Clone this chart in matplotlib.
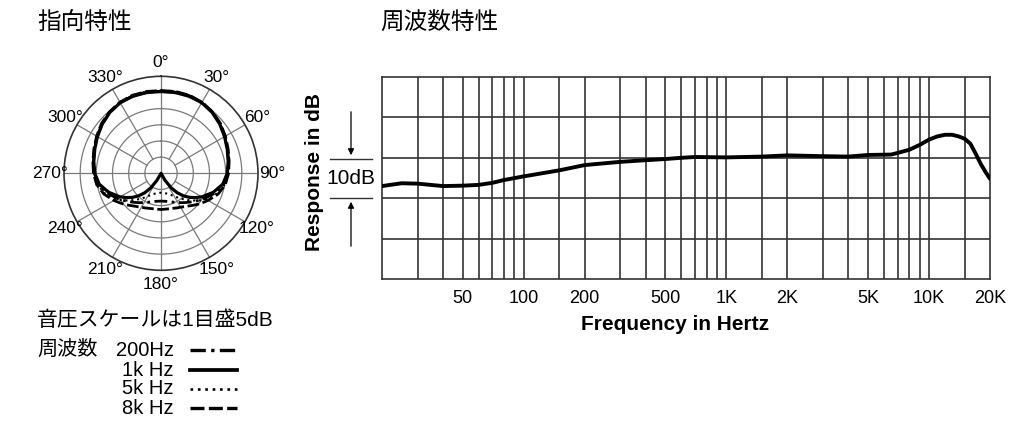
import numpy as np
import matplotlib
matplotlib.use("Agg")
import matplotlib.pyplot as plt

# ---------------- data ----------------
# Polar pattern (dB, outer ring = 0 dB, centre = -30 dB), angles 0..180, mirrored
polar_angles = [0, 10, 20, 30, 40, 50, 60, 70, 80, 90, 100, 110, 120, 125, 130, 135, 140, 145, 150, 155, 160, 170, 180]
polar_1k = [-4.7, -4.6, -4.6, -4.8, -5.4, -6.3, -7.3, -8.2, -8.9, -9.5, -10.6, -12.8, -15.4, -16.9, -18.4, -20.1, -22.1, -24.5, -27.5, -30.0, -30.0, -30.0, -30.0]
polar_8k = [-4.4, -4.3, -4.3, -4.6, -5.2, -6.0, -7.0, -7.9, -8.6, -9.1, -9.8, -11.2, -13.2, -14.2, -15.1, -16.0, -16.8, -17.4, -17.9, -18.2, -18.5, -18.8, -18.8]
polar_5k = [-4.4, -4.4, -4.4, -4.7, -5.3, -6.1, -7.1, -8.0, -8.7, -9.2, -10.0, -11.6, -14.0, -15.4, -16.9, -18.3, -19.6, -20.8, -21.8, -22.6, -23.2, -23.8, -24.0]
polar_200 = [-4.6, -4.5, -4.5, -4.7, -5.3, -6.2, -7.2, -8.1, -8.8, -9.4, -10.4, -12.2, -14.4, -15.5, -16.5, -17.4, -18.2, -18.9, -19.6, -20.1, -20.6, -21.2, -21.4]
polar_labels = ["0°", "30°", "60°", "90°", "120°", "150°", "180°", "210°", "240°", "270°", "300°", "330°"]

# Frequency response (Hz, dB relative)
freq_hz = [20, 25, 30, 40, 50, 60, 70, 80, 100, 150, 200, 300, 400, 500, 600, 700, 1000, 1500, 2000,
           3000, 4000, 5000, 6500, 7000, 8000, 9000, 10000, 11000, 12000, 13000, 14000, 15000, 16000,
           17000, 18000, 19000, 20000]
resp_db = [-7.0, -6.3, -6.4, -7.0, -6.9, -6.7, -6.2, -5.5, -4.6, -3.1, -1.8, -1.0, -0.6, -0.3, 0.0, 0.2, 0.1, 0.3, 0.6,
           0.4, 0.3, 0.7, 0.8, 1.2, 2.0, 3.2, 4.5, 5.3, 5.7, 5.7, 5.3, 4.7, 3.5,
           1.0, -1.5, -3.5, -5.2]
grid_freqs = [30, 40, 50, 60, 70, 80, 90, 100, 150, 200, 300, 400, 500, 600, 700, 800, 900, 1000, 1500,
              2000, 3000, 4000, 5000, 6000, 7000, 8000, 9000, 10000, 15000]
tick_freqs = [50, 100, 200, 500, 1000, 2000, 5000, 10000, 20000]
tick_labels = ["50", "100", "200", "500", "1K", "2K", "5K", "10K", "20K"]
db_lines = [-20, -10, 0, 10]

legend_names = ["200Hz", "1k Hz", "5k Hz", "8k Hz"]

# ---------------- styles ----------------
CJK = ["Noto Sans CJK JP", "DejaVu Sans"]
MIX = ["Liberation Sans", "Noto Sans CJK JP", "DejaVu Sans"]
LAT = ["Liberation Sans", "DejaVu Sans"]
GRID = "#333333"
styles = {
    "200": dict(color="black", lw=2.0, dashes=(4.6, 1.6, 1.0, 1.6)),
    "1k": dict(color="black", lw=2.3, linestyle="-"),
    "5k": dict(color="black", lw=1.5, dashes=(1.0, 1.8)),
    "8k": dict(color="black", lw=2.0, dashes=(4.2, 1.3)),
}

fig = plt.figure(figsize=(10.24, 4.22), dpi=100)
W, H = 1024, 422

over = fig.add_axes([0, 0, 1, 1])
over.set_xlim(0, W)
over.set_ylim(H, 0)
over.axis("off")

# titles
over.text(37, 23, "指向特性", family=CJK, fontsize=17, va="center", ha="left")
over.text(380, 23, "周波数特性", family=CJK, fontsize=17, va="center", ha="left")

# ---------------- polar ----------------
cx, cy, R = 161, 173.3, 97
pax = fig.add_axes([(cx - R) / W, (H - cy - R) / H, 2 * R / W, 2 * R / H], projection="polar")
pax.set_theta_zero_location("N")
pax.set_theta_direction(-1)
pax.set_ylim(0, 30)
pax.set_xticks([])
pax.set_yticks([])
pax.grid(False)
pax.spines["polar"].set_color(GRID)
pax.spines["polar"].set_linewidth(1.2)
th = np.linspace(0, 2 * np.pi, 361)
for rr in [5, 10, 15, 20, 25]:
    pax.plot(th, np.full_like(th, rr), color="#7a7a7a", lw=0.9, zorder=1)
for a in range(0, 360, 30):
    r0 = 0 if a % 90 == 0 else 5
    pax.plot([np.deg2rad(a)] * 2, [r0, 30], color="#7a7a7a", lw=0.9, zorder=1)
for i, lab in enumerate(polar_labels):
    pax.text(np.deg2rad(i * 30), 34.3, lab, family=LAT, fontsize=12.5,
             ha="center", va="center", clip_on=False)

full_ang = polar_angles + [360 - a for a in polar_angles[-2::-1]]
def mirror(v):
    return v + v[-2::-1]
def plot_polar(vals, key, z):
    r = np.clip(np.array(mirror(vals)) + 30, 0, 30)
    pax.plot(np.deg2rad(full_ang), r, zorder=z, **styles[key])

plot_polar(polar_200, "200", 3)
plot_polar(polar_5k, "5k", 3)
plot_polar(polar_8k, "8k", 3)
plot_polar(polar_1k, "1k", 4)

# ---------------- legend ----------------
over.text(37, 320, "音圧スケールは1目盛5dB", family=MIX, fontsize=15, va="center", ha="left")
over.text(37, 349, "周波数", family=MIX, fontsize=14.5, va="center", ha="left")
leg_y = [350, 370, 389, 408]
for name, key, y in zip(legend_names, ["200", "1k", "5k", "8k"], leg_y):
    over.text(174, y, name, family=MIX, fontsize=14.5, va="center", ha="right")
    st = dict(styles[key])
    st["lw"] = st["lw"] + 0.4
    over.plot([190, 237], [y, y], **st)

# ---------------- frequency response ----------------
x0, x1, y0, y1 = 382, 990, 77, 279
fax = fig.add_axes([x0 / W, (H - y1) / H, (x1 - x0) / W, (y1 - y0) / H])
fax.set_xscale("log")
fax.set_xlim(20, 20000)
fax.set_ylim(-30, 20)
for f in grid_freqs:
    fax.axvline(f, color=GRID, lw=1.2, zorder=1)
for d in db_lines:
    fax.axhline(d, color=GRID, lw=1.2, zorder=1)
for s in fax.spines.values():
    s.set_color(GRID)
    s.set_linewidth(1.2)
fax.set_xticks(tick_freqs)
fax.set_xticklabels(tick_labels, family=LAT, fontsize=13)
fax.xaxis.set_minor_locator(matplotlib.ticker.NullLocator())
fax.set_yticks([])
fax.tick_params(axis="x", length=0, pad=8)
fax.plot(freq_hz, resp_db, color="black", lw=2.8, zorder=3, solid_capstyle="round")

over.text(675, 325, "Frequency in Hertz", family=LAT, fontsize=15, fontweight="bold",
          ha="center", va="center")
over.text(315, 172, "Response in dB", family=LAT, fontsize=15, fontweight="bold",
          ha="center", va="center", rotation=90)

# 10dB marker
over.plot([330, 372], [159, 159], color=GRID, lw=1.0)
over.plot([330, 372], [198, 198], color=GRID, lw=1.0)
over.annotate("", xy=(351, 158), xytext=(351, 109),
              arrowprops=dict(arrowstyle="-|>", color="black", lw=0.9, mutation_scale=9))
over.annotate("", xy=(351, 199), xytext=(351, 249),
              arrowprops=dict(arrowstyle="-|>", color="black", lw=0.9, mutation_scale=9))
over.text(351, 179, "10dB", family=LAT, fontsize=15, ha="center", va="center")

fig.savefig("out.png", dpi=100)
